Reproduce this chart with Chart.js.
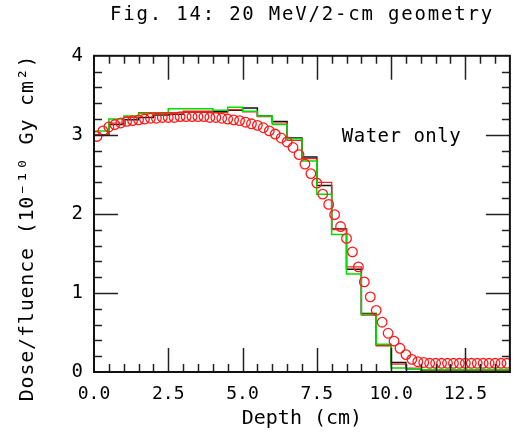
<!DOCTYPE html>
<html><head><meta charset="utf-8">
<script src="https://cdn.jsdelivr.net/npm/chart.js@4"></script>
<style>html,body{margin:0;padding:0;background:#fff}#wrap{width:516px;height:437px}</style>
</head><body><div id="wrap"><canvas id="c" width="516" height="437"></canvas></div>
<script>
// ---- data ----
const titleText = 'Fig. 14: 20 MeV/2-cm geometry';
const xAxisLabel = 'Depth (cm)';
const yAxisLabel = 'Dose/fluence (10\u207B\u00B9\u2070 Gy cm\u00B2)';
const annotationText = 'Water only';
const annotationAt = [10.35, 2.97];

const xTickValues = [0, 2.5, 5, 7.5, 10, 12.5];
const yTickValues = [0, 1, 2, 3, 4];

// histogram bin edges (cm)
const binEdges = [0,0.5,1,1.5,2,2.5,3,3.5,4,4.5,5,5.5,6,6.5,7,7.5,8,8.5,9,9.5,10,10.5,11,11.5,12,12.5,13,13.5,14];
// black histogram (one value per bin)
const blackHist = [3.00,3.13,3.19,3.22,3.25,3.26,3.29,3.29,3.30,3.31,3.34,3.24,3.17,2.96,2.72,2.36,1.81,1.30,0.74,0.34,0.12,0.04,0.02,0.02,0.02,0.02,0.02,0.02];
// red histogram
const redHist = [3.00,3.15,3.22,3.28,3.28,3.28,3.30,3.30,3.28,3.32,3.29,3.23,3.15,2.93,2.70,2.40,1.80,1.33,0.72,0.33,0.10,0.05,0.015,0.015,0.015,0.015,0.015,0.015];
// green histogram
const greenHist = [3.05,3.20,3.24,3.27,3.27,3.33,3.33,3.33,3.31,3.35,3.30,3.24,3.13,2.95,2.67,2.25,1.74,1.24,0.73,0.35,0.05,0.04,0.03,0.03,0.03,0.03,0.03,0.03];

// red open circles
const circleDepth = [0.1,0.3,0.5,0.7,0.9,1.1,1.3,1.5,1.7,1.9,2.1,2.3,2.5,2.7,2.9,3.1,3.3,3.5,3.7,3.9,4.1,4.3,4.5,4.7,4.9,5.1,5.3,5.5,5.7,5.9,6.1,6.3,6.5,6.7,6.9,7.1,7.3,7.5,7.7,7.9,8.1,8.3,8.5,8.7,8.9,9.1,9.3,9.5,9.7,9.9,10.1,10.3,10.5,10.7,10.9,11.1,11.3,11.5,11.7,11.9,12.1,12.3,12.5,12.7,12.9,13.1,13.3,13.5,13.7,13.9];
const circleDose = [2.98,3.05,3.10,3.13,3.15,3.17,3.18,3.19,3.20,3.21,3.21,3.22,3.22,3.22,3.23,3.23,3.23,3.23,3.23,3.22,3.22,3.21,3.20,3.19,3.18,3.16,3.14,3.12,3.09,3.05,3.01,2.96,2.91,2.84,2.75,2.63,2.51,2.39,2.25,2.12,1.99,1.84,1.69,1.52,1.33,1.14,0.95,0.78,0.63,0.49,0.39,0.30,0.22,0.16,0.13,0.12,0.11,0.11,0.11,0.11,0.11,0.11,0.11,0.11,0.11,0.11,0.11,0.11,0.11,0.11];

// ---- build library tables ----
function histPoints(vals){
  const pts = [{x: binEdges[0], y: 0}];
  vals.forEach((v,i)=>pts.push({x: binEdges[i], y: v}));
  pts.push({x: binEdges[binEdges.length-1], y: vals[vals.length-1]});
  return pts;
}
const circlePoints = circleDepth.map((d,i)=>({x:d, y:circleDose[i]}));

const FONT = "'DejaVu Sans Mono', monospace";

// widen the title letters and shift the y-axis title like the reference
const textTweaks = {
  id: 'textTweaks',
  afterLayout(chart){
    const tb = chart.titleBlock;
    if (tb && !tb._patched) {
      const orig = tb.draw;
      tb.draw = function(){
        const ctx = chart.ctx; ctx.save();
        ctx.letterSpacing = '1.8px';
        orig.apply(this, arguments);
        ctx.restore();
      };
      tb._patched = true;
    }
    const ys = chart.scales.y;
    if (ys && !ys._patched) {
      const origT = ys.drawTitle;
      ys.drawTitle = function(){
        const ctx = chart.ctx; ctx.save();
        ctx.translate(0, 14);
        ctx.letterSpacing = '0.8px';
        origT.apply(this, arguments);
        ctx.restore();
      };
      ys._patched = true;
    }
  }
};

const framePlugin = {
  id: 'frame',
  afterDraw(chart){
    const {ctx, chartArea:a, scales:{x, y}} = chart;
    ctx.save();
    ctx.strokeStyle = '#222';
    ctx.lineWidth = 1.5;
    ctx.beginPath();
    for (let k = 1; k * 0.5 < x.max; k++) {
      const px = Math.round(x.getPixelForValue(k * 0.5)) + 0.5;
      const len = (k % 5 === 0) ? 24 : 8;
      ctx.moveTo(px, a.bottom); ctx.lineTo(px, a.bottom - len);
      ctx.moveTo(px, a.top); ctx.lineTo(px, a.top + len);
    }
    for (let k = 1; k * 0.2 < y.max - 1e-9; k++) {
      const py = Math.round(y.getPixelForValue(k * 0.2)) + 0.5;
      const len = (k % 5 === 0) ? 24 : 8;
      ctx.moveTo(a.left, py); ctx.lineTo(a.left + len, py);
      ctx.moveTo(a.right, py); ctx.lineTo(a.right - len, py);
    }
    ctx.stroke();
    ctx.lineWidth = 2;
    ctx.strokeStyle = '#111';
    ctx.strokeRect(a.left, a.top, a.right - a.left, a.bottom - a.top);
    ctx.fillStyle = '#000';
    ctx.font = "19px " + FONT;
    ctx.letterSpacing = '0.5px';
    ctx.textAlign = 'center';
    ctx.textBaseline = 'middle';
    ctx.fillText(annotationText, x.getPixelForValue(annotationAt[0]), y.getPixelForValue(annotationAt[1]));
    ctx.restore();
  }
};

new Chart(document.getElementById('c'), {
  type: 'line',
  data: {
    datasets: [
      {label:'circles', data: circlePoints, showLine:false, pointStyle:'circle', pointRadius:4.8, pointBorderWidth:1.3,
       pointBorderColor:'#ff1a1a', pointBackgroundColor:'rgba(0,0,0,0)', borderColor:'#ff1a1a', order:1},
      {label:'green', data: histPoints(greenHist), stepped:'before', borderColor:'#00dd00', borderWidth:1.5, pointRadius:0, fill:false, order:2},
      {label:'red', data: histPoints(redHist), stepped:'before', borderColor:'#ff2020', borderWidth:1.2, pointRadius:0, fill:false, order:3},
      {label:'black', data: histPoints(blackHist), stepped:'before', borderColor:'#111', borderWidth:1.5, pointRadius:0, fill:false, order:4}
    ]
  },
  options: {
    responsive:false, animation:false, devicePixelRatio:1,
    layout:{padding:{left:0, right:2, top:0, bottom:0}},
    plugins:{
      legend:{display:false}, tooltip:{enabled:false},
      title:{display:true, fullSize:false, text:titleText, color:'#000', font:{family:FONT, size:19, weight:'normal'}, padding:{top:4, bottom:29}}
    },
    scales:{
      x:{type:'linear', min:0, max:14, position:'bottom',
         afterFit(s){ s.height = 65; },
         afterBuildTicks(s){ s.ticks = xTickValues.map(v=>({value:v})); },
         grid:{display:false, drawTicks:false}, border:{display:false},
         ticks:{color:'#000', font:{family:FONT, size:18}, padding:12, maxRotation:0, autoSkip:false, callback:v=>Number(v).toFixed(1)},
         title:{display:true, text:xAxisLabel, color:'#000', font:{family:FONT, size:20}, padding:{top:0,bottom:6}}},
      y:{type:'linear', min:0, max:4, position:'left',
         afterFit(s){ s.width = 94; },
         afterBuildTicks(s){ s.ticks = yTickValues.map(v=>({value:v})); },
         grid:{display:false, drawTicks:false}, border:{display:false},
         ticks:{color:'#000', font:{family:FONT, size:19}, padding:11, callback:v=>String(v)},
         title:{display:true, text:yAxisLabel, color:'#000', font:{family:FONT, size:20}, padding:{top:16,bottom:0}}}
    }
  },
  plugins:[textTweaks, framePlugin]
});
</script></body></html>
